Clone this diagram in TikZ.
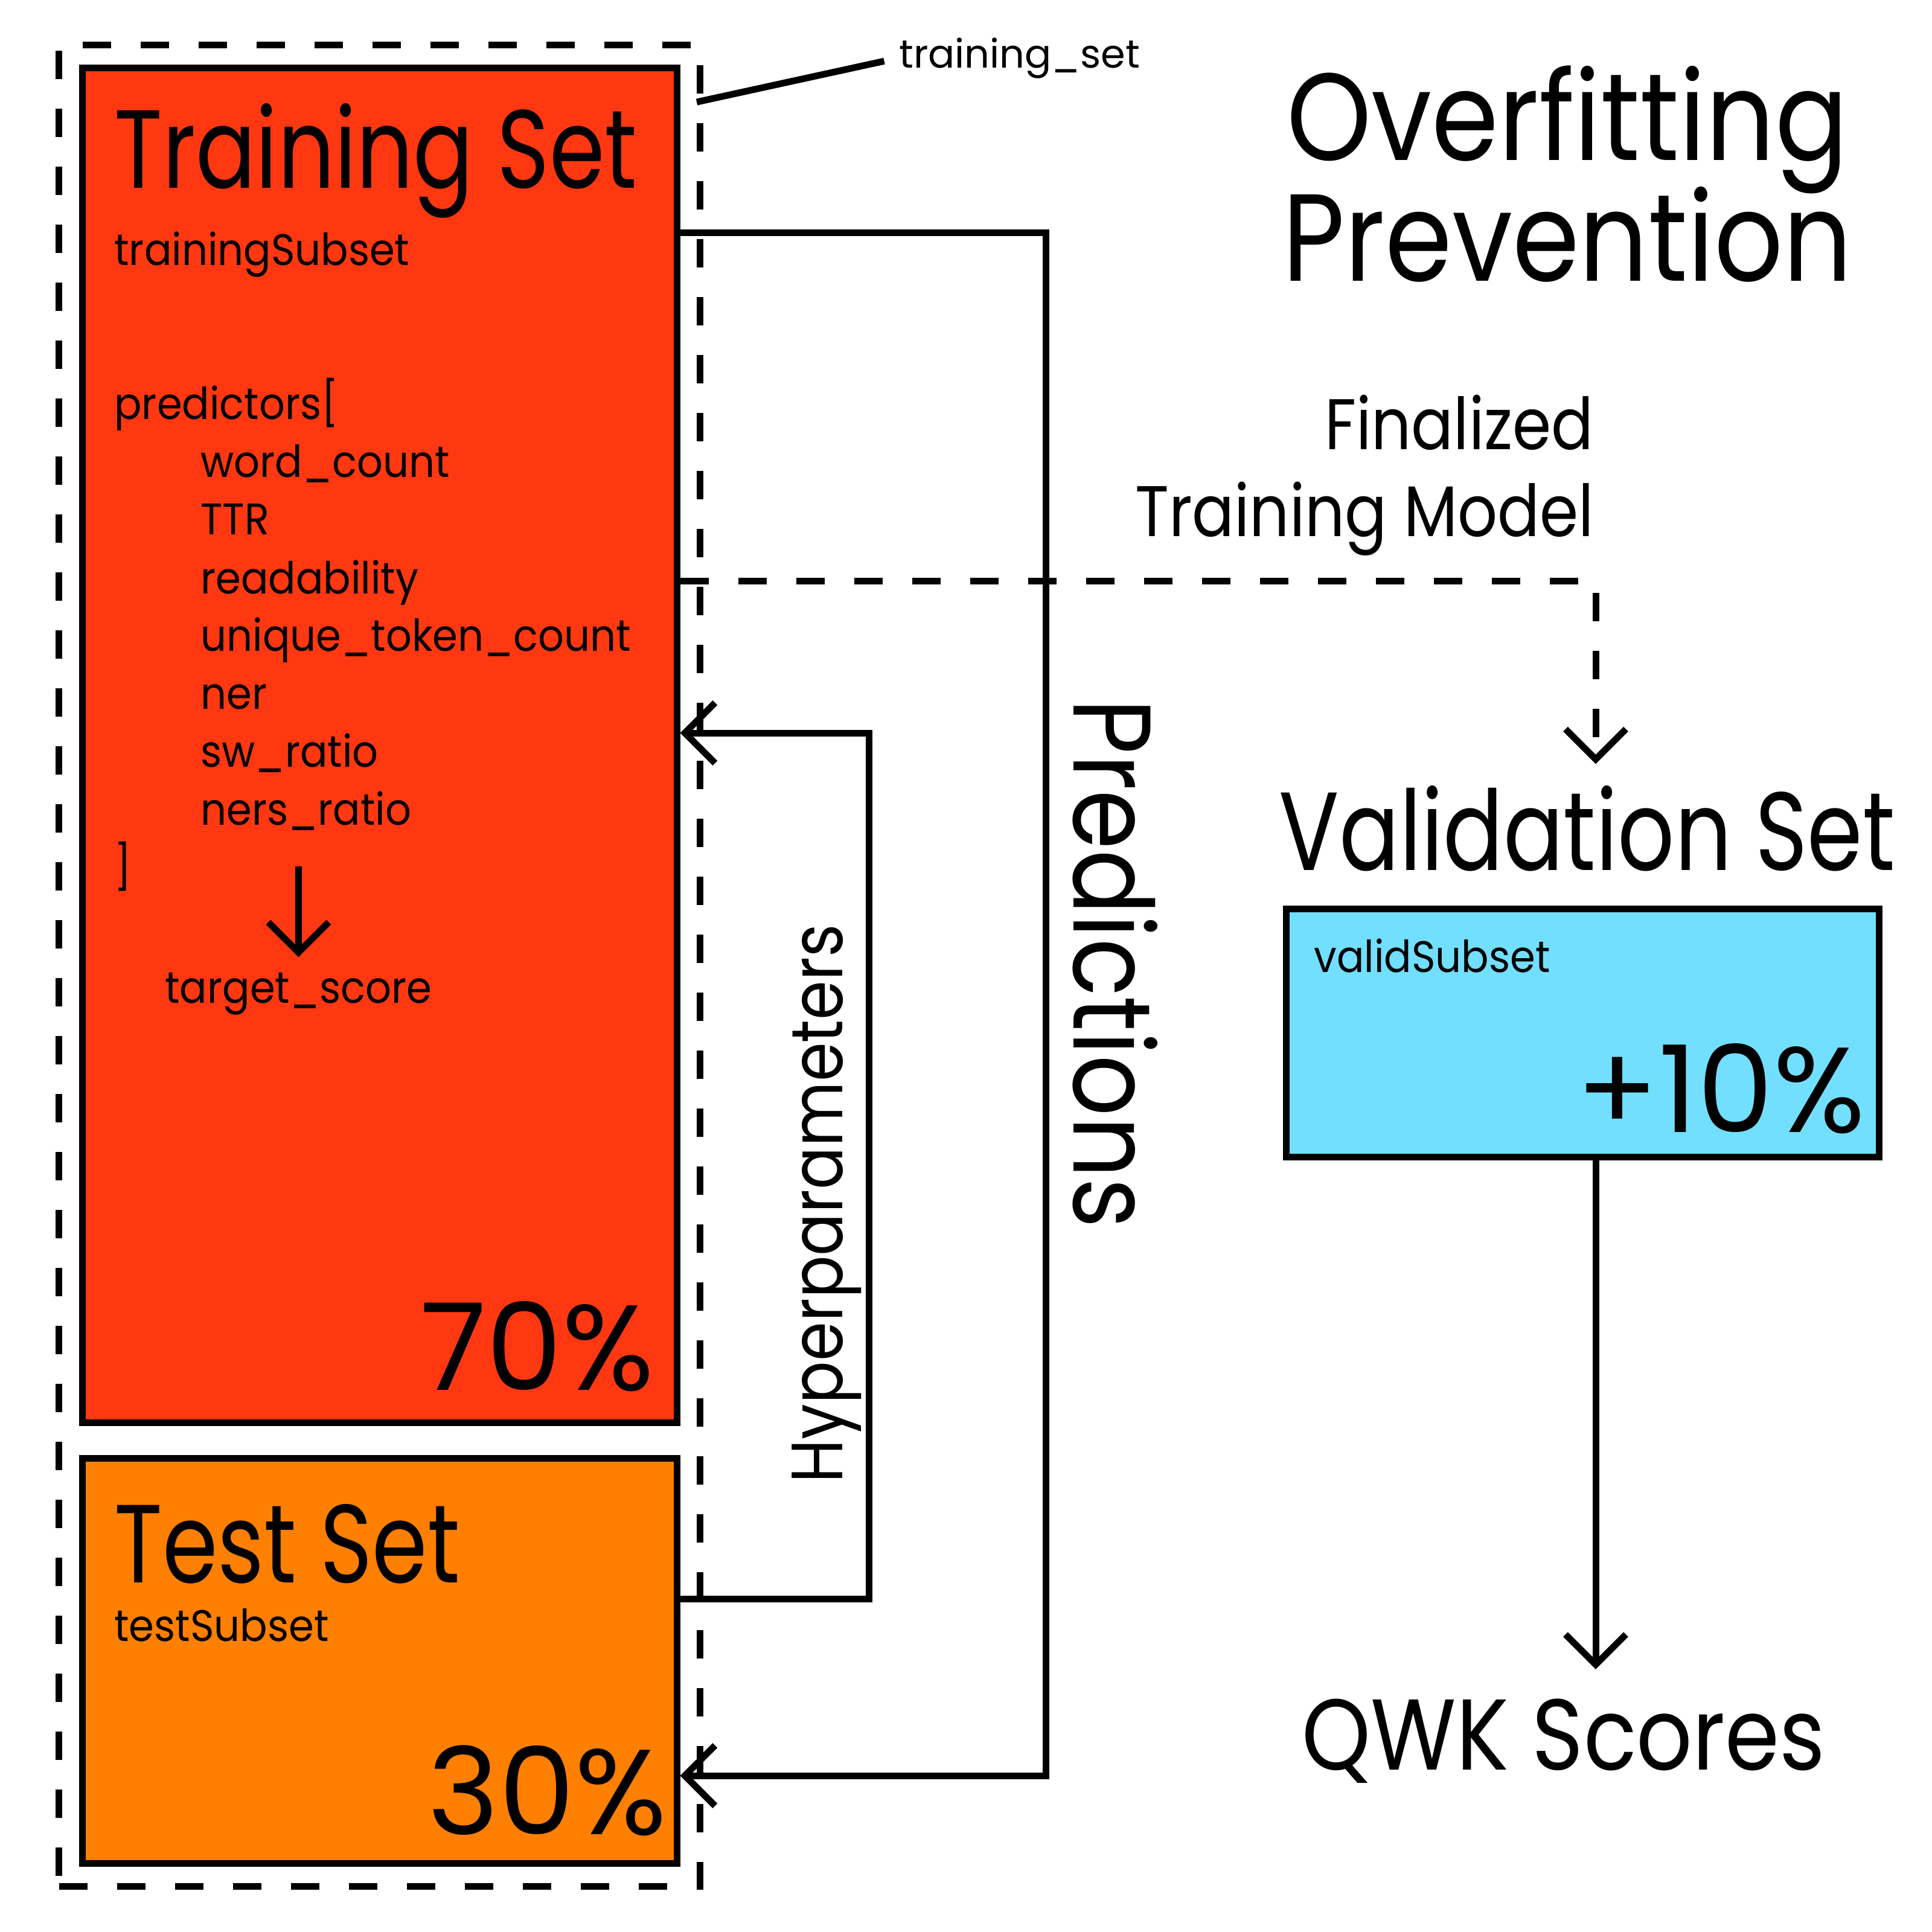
\documentclass[tikz,border=0pt]{standalone}
\usepackage{fontspec}
\setmainfont{Poppins}
\newfontfamily\condfont[FakeStretch=0.80]{Poppins}
\newfontfamily\narrowfont[FakeStretch=0.87]{Poppins}
\newfontfamily\subsetfont[FakeStretch=0.92]{Poppins}
\usetikzlibrary{positioning}
\usetikzlibrary{fit}
\usetikzlibrary{arrows.meta}

\definecolor{trainred}{HTML}{FF3811}
\definecolor{testorange}{HTML}{FF7F00}
\definecolor{validblue}{HTML}{72DFFF}

\newcommand{\tightlines}{\lineskiplimit=-50pt\relax}

\begin{document}
\begin{tikzpicture}[
    x=0.5cm, y=-0.5cm,
    line width=0.055cm,
    >={Straight Barb[length=0.25cm,width=0.5cm]},
    every node/.style={
        inner sep=0
    },
    setbox/.style={
        minimum width=4.925cm,
        rectangle,
        draw
    },
    groupbox/.style={
        rectangle,
        draw,
        dash pattern=on 0.235cm off 0.245cm
    },
    dashedline/.style={
        dash pattern=on 0.235cm off 0.245cm
    },
    heading/.style={
        font=\narrowfont\fontsize{29.2}{28.45}\selectfont\tightlines
    },
    settitle/.style={
        anchor=base west,
        font=\condfont\fontsize{26.2}{30}\selectfont
    },
    subset/.style={
        anchor=base west,
        font=\subsetfont\fontsize{10.4}{13.6}\selectfont
    },
    percent/.style={
        anchor=base east,
        font=\fontsize{28.5}{30}\selectfont
    },
    label/.style={
        font=\narrowfont\fontsize{16.9}{20.5}\selectfont
    }
]
\useasboundingbox (0,0) rectangle (32,32);

% the three subsets
\node (training) [setbox, fill=trainred, minimum height=11.215cm] at (6.285,12.345) {};
\node (test)     [setbox, fill=testorange, minimum height=3.355cm] at (6.285,27.505) {};
\node (valid)    [setbox, fill=validblue, minimum width=4.91cm, minimum height=2.055cm] at (26.21,17.105) {};
\node (trainset) [groupbox, fit=(training)(test), inner sep=0.165cm] {};

% texts in the training box
\node (traintitle) [settitle] at (1.84,3.12)  {Training Set};
\node (trainsub)   [subset]   at (1.84,4.40)  {trainingSubset};
\node (pred0)      [subset]   at (1.84,6.95)  {predictors[};
\node (pred1)      [subset]   at (3.27,7.91)  {word\_count};
\node (pred2)      [subset]   at (3.27,8.86)  {TTR};
\node (pred3)      [subset]   at (3.27,9.83)  {readability};
\node (pred4)      [subset]   at (3.27,10.79) {unique\_token\_count};
\node (pred5)      [subset]   at (3.27,11.74) {ner};
\node (pred6)      [subset]   at (3.27,12.70) {sw\_ratio};
\node (pred7)      [subset]   at (3.27,13.66) {ners\_ratio};
\node (pred8)      [subset]   at (1.84,14.62) {]};
\node (target)     [subset]   at (2.68,16.61) {target\_score};
\node (trainpct)   [percent]  at (10.89,23.02) {70\%};

% texts in the test box
\node (testtitle) [settitle] at (1.84,26.21) {Test Set};
\node (testsub)   [subset]   at (1.84,27.18) {testSubset};
\node (testpct)   [percent]  at (11.10,30.38) {30\%};

% validation side
\node (title)    [heading, align=center] at (25.96,2.885) {Overfitting\\Prevention};
\node (finlabel) [label, align=right, anchor=east] at (26.45,7.87) {Finalized\\Training Model};
\node (vallabel) [settitle, anchor=base] at (26.29,14.41) {Validation Set};
\node (validsub) [subset]  at (21.71,16.10) {validSubset};
\node (validpct) [percent] at (30.95,18.75) {+10\%};
\node (qwk) [anchor=base, font=\narrowfont\fontsize{23.7}{28}\selectfont] at (25.90,29.31) {QWK Scores};

% connector labels
\node (setlabel) [anchor=base west, font=\fontsize{9.3}{11}\selectfont] at (14.84,1.13) {training\_set};
\node (hyplabel) [anchor=base west, rotate=90, font=\narrowfont\fontsize{17.1}{20}\selectfont] at (13.95,24.62) {Hyperparameters};
\node (predlabel) [anchor=base west, rotate=-90, font=\narrowfont\fontsize{26}{30}\selectfont] at (17.78,11.52) {Predictions};

\coordinate (leadstart) at (11.54,1.69);
\coordinate (predtop) at (17.32,3.86);
\coordinate (predbot) at (17.32,29.41);
\coordinate (hyptop) at (14.39,12.14);
\coordinate (hypbot) at (14.39,26.48);
\coordinate (fincorner) at (26.43,9.63);

\draw[shorten >=0.1cm] (leadstart) -- (setlabel.west);
\draw[->,shorten >=0.1cm] (pred8 -| target.north) -- (target.north);
\draw[->] (training.east |- predtop) -- (predtop) -- (predbot) -- (test.east |- predbot);
\draw[->] (test.east |- hypbot) -- (hypbot) -- (hyptop) -- (training.east |- hyptop);
\draw[->,dashedline,shorten >=0.15cm] (training.east |- fincorner) -- (fincorner) -- (fincorner |- vallabel.north);
\draw[->,shorten >=0.215cm] (valid.south -| fincorner) -- (qwk.north -| fincorner);
\end{tikzpicture}
\end{document}
